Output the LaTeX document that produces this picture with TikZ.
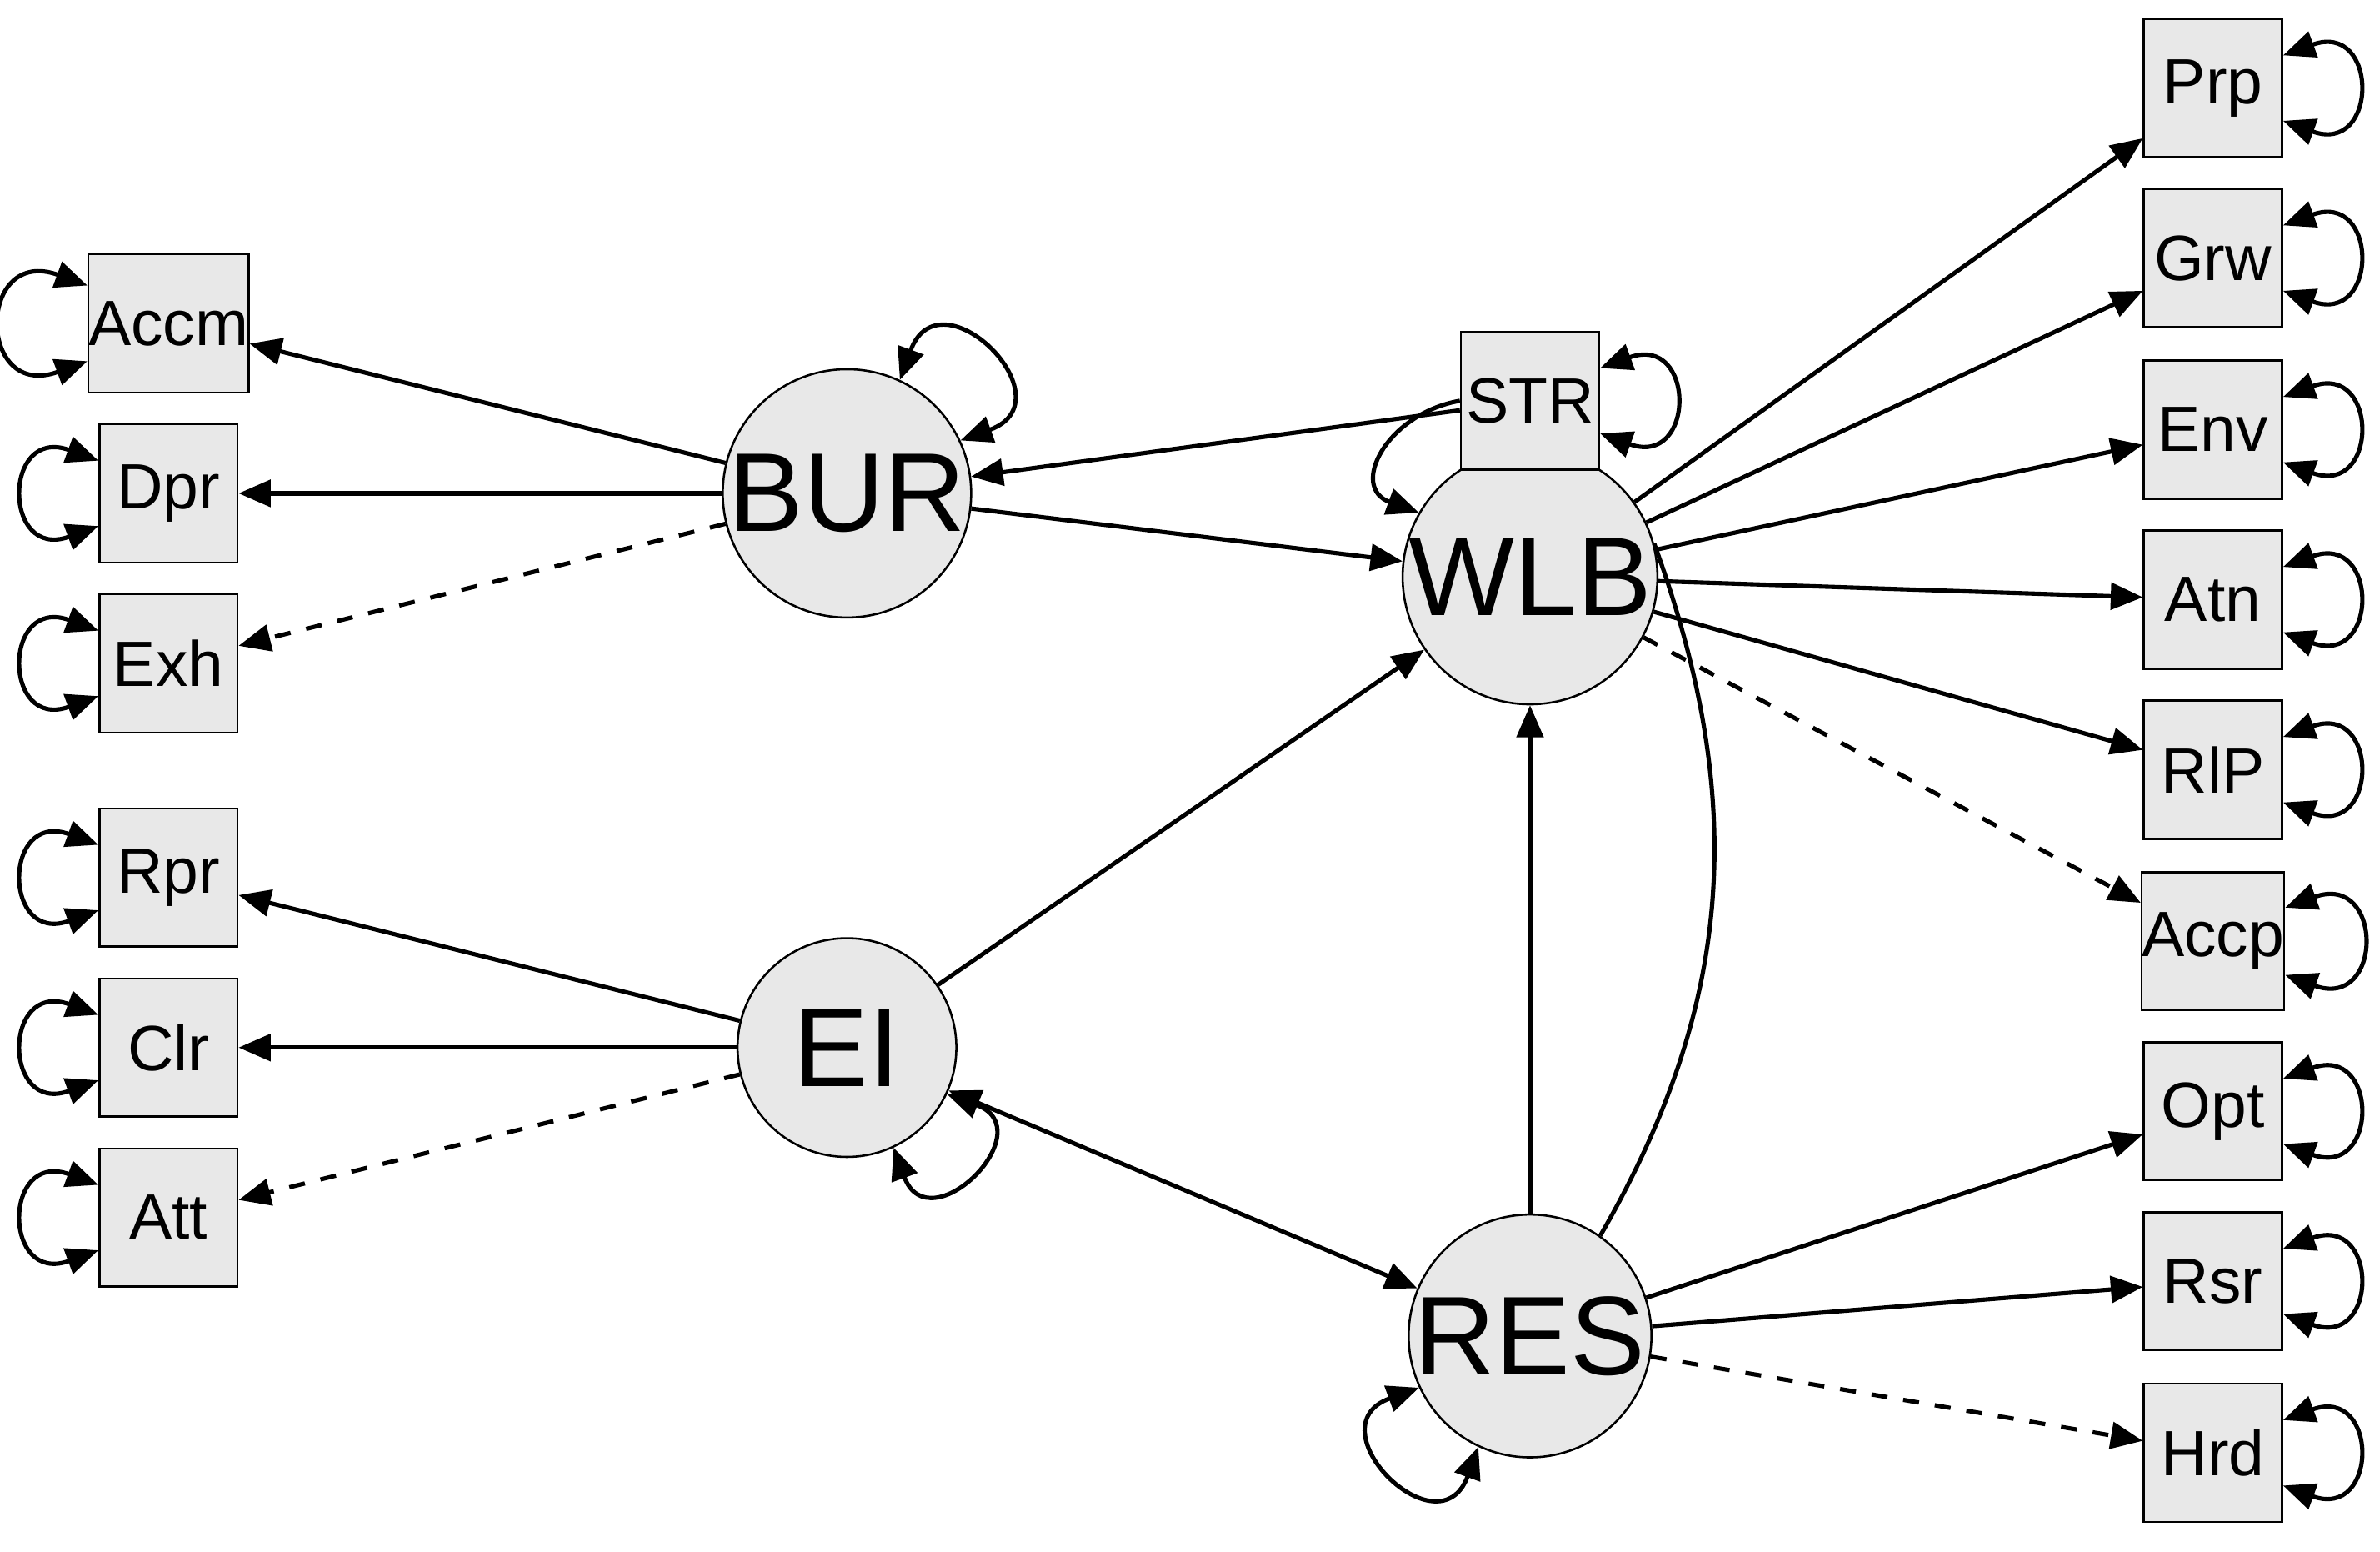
\documentclass[tikz,border=0pt]{standalone}
\usepackage{fontspec}
\setmainfont{Liberation Sans}
\usetikzlibrary{arrows.meta,positioning}
\tikzset{
  obs/.style={draw, fill=gray!18, minimum width=0.91cm, minimum height=0.91cm, inner sep=0pt, font=\fontsize{12}{12}\selectfont},
  lat/.style={draw, circle, fill=gray!18, minimum size=1.44cm, inner sep=0pt, font=\fontsize{21}{21}\selectfont},
  path/.style={line width=0.8pt, -{Triangle[length=6pt,width=5pt]}},
  var/.style={line width=0.8pt, {Triangle[length=6pt,width=5pt]}-{Triangle[length=6pt,width=5pt]}},
}
\begin{document}
\begin{tikzpicture}[x=0.01cm,y=-0.01cm]
    \useasboundingbox (0,0) rectangle (1568,1022);

    % latent variables
    \node (BUR) at (558,325) [lat] {BUR};
    \node (EI) at (558,690) [lat] {EI};
    \node (WLB) at (1008,380) [lat] {WLB};
    \node (RES) at (1008,880) [lat] {RES};
    \node (STR) at (1008,264) [obs] {STR};

    % indicators, left side
    \foreach \n/\y in {Accm/213,Dpr/325,Exh/437,Rpr/578,Clr/690,Att/802}{
        \node (\n) at (111,\y) [obs] {\n};
        \draw[var] (\n.155) to[out=160,in=200,looseness=4] (\n.205);
    }
    % indicators, right side
    \foreach \n/\y in {Prp/58,Grw/170,Env/283,Atn/395,RlP/507,Accp/620,Opt/732,Rsr/844,Hrd/957}{
        \node (\n) at (1458,\y) [obs] {\n};
        \draw[var] (\n.25) to[out=20,in=-20,looseness=4] (\n.-25);
    }

    \draw[path] (BUR) -- (Accm);
    \draw[path] (BUR) -- (Dpr);
    \draw[path, dashed] (BUR) -- (Exh);
    \draw[path] (EI) -- (Rpr);
    \draw[path] (EI) -- (Clr);
    \draw[path, dashed] (EI) -- (Att);

    \foreach \n in {Prp,Grw,Env,Atn,RlP}{
        \draw[path] (WLB) -- (\n);
    }
    \draw[path, dashed] (WLB) -- (Accp);
    \draw[path] (RES) -- (Opt);
    \draw[path] (RES) -- (Rsr);
    \draw[path, dashed] (RES) -- (Hrd);

    \draw[path] (STR) -- (BUR);
    \draw[path] (BUR) -- (WLB);
    \draw[path] (EI) -- (WLB);
    \draw[path] (RES) -- (WLB);
    \draw[var] (EI) -- (RES);
    \draw[path] (STR.west) to[out=190,in=160,looseness=1.6] (WLB.150);
    \draw[line width=0.8pt] (RES.55) to[out=60,in=-70] (WLB.15);

    % variances
    \draw[var] (BUR.65) to[out=70,in=20,looseness=3.5] (BUR.25);
    \draw[var] (EI.-65) to[out=-70,in=-20,looseness=3.5] (EI.-25);
    \draw[var] (RES.205) to[out=200,in=250,looseness=3.5] (RES.245);
    \draw[var] (STR.25) to[out=20,in=-20,looseness=4] (STR.-25);
\end{tikzpicture}
\end{document}
